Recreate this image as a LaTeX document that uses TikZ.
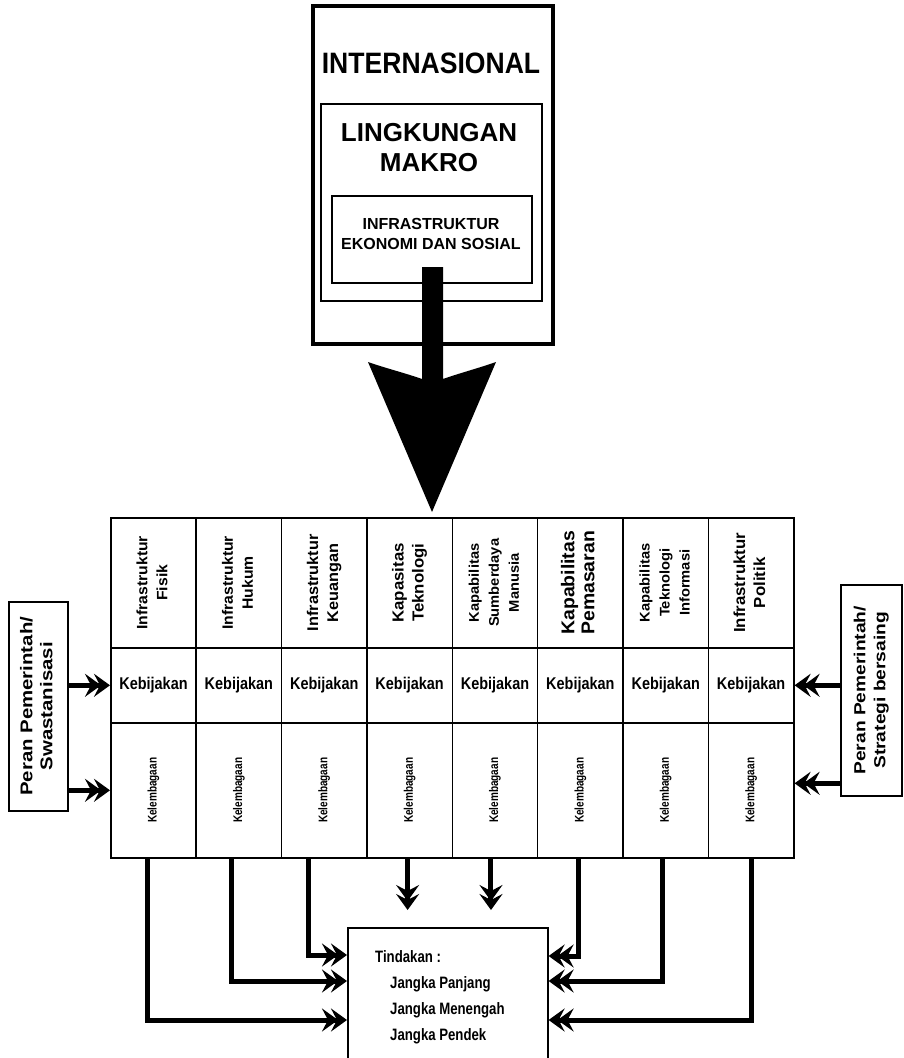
\documentclass[tikz,border=0pt]{standalone}
\usepackage{graphicx}
\usepackage{fontspec}
\setmainfont{Liberation Sans}
\newfontfamily\titlefont[FakeStretch=0.9]{Liberation Sans}
\newfontfamily\hdfont[FakeStretch=1.05]{Liberation Sans}
\newfontfamily\sidefont[FakeStretch=1.2]{Liberation Sans}
\newfontfamily\kebfont[FakeStretch=0.85]{Liberation Sans}
\newfontfamily\kelfont[FakeStretch=0.8]{Liberation Sans}
\newfontfamily\tinfont[FakeStretch=0.8]{Liberation Sans}
\usetikzlibrary{arrows.meta,calc}
\newcommand{\vtxt}[2]{\rotatebox{90}{\hdfont\bfseries\fontsize{#1}{20}\selectfont\begin{tabular}{@{}c@{}}#2\end{tabular}}}
\newcommand{\kel}{\rotatebox{90}{Kelembagaan}}
\tikzset{
  cell/.style={draw, line width=1.6pt, anchor=north west, inner sep=0pt, minimum width=85.375pt},
  hcell/.style={cell, minimum height=130pt},
  kcell/.style={cell, minimum height=75pt, font=\kebfont\bfseries\fontsize{17}{20}\selectfont},
  lcell/.style={cell, minimum height=135pt, font=\kelfont\bfseries\fontsize{12.5}{14}\selectfont},
  frame/.style={draw, anchor=north west, inner sep=0pt},
  dbl/.style={line width=5pt, -{Stealth[length=16pt,width=23pt,inset=6pt,sep=-7pt]Stealth[length=16pt,width=23pt,inset=6pt]}},
}
\begin{document}
\begin{tikzpicture}[x=1pt,y=-1pt]
\useasboundingbox (0,0) rectangle (903,1058);
\fill[white] (0,0) rectangle (903,1058);

% top nested boxes
\node[frame, line width=4pt, minimum width=240pt, minimum height=338pt] (intl) at (311,4) {};
\node[frame, line width=1.5pt, minimum width=221pt, minimum height=197pt] (makro) at (320,103) {};
\node[frame, line width=1.5pt, minimum width=200pt, minimum height=87pt] (infra) at (331,195) {};
\node[font=\titlefont\bfseries\fontsize{29.5}{34}\selectfont] (tIntl) at (431,63) {INTERNASIONAL};
\node[font=\bfseries\fontsize{26}{30}\selectfont, align=center] (tMakro) at (429,147.5) {LINGKUNGAN\\MAKRO};
\node[font=\bfseries\fontsize{16}{19.5}\selectfont, align=center] (tInfra) at (431,234) {INFRASTRUKTUR\\EKONOMI DAN SOSIAL};

% big arrow
\fill (422,267) -- (422,379) .. controls (405,373) and (385,368) .. (368,362) -- (432,512) -- (496,362) .. controls (479,368) and (460,373) .. (443,379) -- (443,267) -- cycle;

% header row
\node[hcell] (h1) at (110,517) {\vtxt{15}{Infrastruktur\\Fisik}};
\node[hcell] (h2) at (195.375,517) {\vtxt{15}{Infrastruktur\\Hukum}};
\node[hcell] (h3) at (280.75,517) {\vtxt{15.5}{Infrastruktur\\Keuangan}};
\node[hcell] (h4) at (366.125,517) {\vtxt{16}{Kapasitas\\Teknologi}};
\node[hcell] (h5) at (451.5,517) {\vtxt{14}{Kapabilitas\\Sumberdaya\\Manusia}};
\node[hcell] (h6) at (536.875,517) {\vtxt{18.5}{Kapabilitas\\Pemasaran}};
\node[hcell] (h7) at (622.25,517) {\vtxt{14}{Kapabilitas\\Teknologi\\Informasi}};
\node[hcell] (h8) at (707.625,517) {\vtxt{16}{Infrastruktur\\Politik}};

% Kebijakan row
\node[kcell] (k1) at (110,647) {Kebijakan};
\node[kcell] (k2) at (195.375,647) {Kebijakan};
\node[kcell] (k3) at (280.75,647) {Kebijakan};
\node[kcell] (k4) at (366.125,647) {Kebijakan};
\node[kcell] (k5) at (451.5,647) {Kebijakan};
\node[kcell] (k6) at (536.875,647) {Kebijakan};
\node[kcell] (k7) at (622.25,647) {Kebijakan};
\node[kcell] (k8) at (707.625,647) {Kebijakan};

% Kelembagaan row
\node[lcell] (l1) at (110,722) {\kel};
\node[lcell] (l2) at (195.375,722) {\kel};
\node[lcell] (l3) at (280.75,722) {\kel};
\node[lcell] (l4) at (366.125,722) {\kel};
\node[lcell] (l5) at (451.5,722) {\kel};
\node[lcell] (l6) at (536.875,722) {\kel};
\node[lcell] (l7) at (622.25,722) {\kel};
\node[lcell] (l8) at (707.625,722) {\kel};

% side boxes
\node[frame, line width=1.6pt, minimum width=59pt, minimum height=209pt] (lb) at (8,601)
  {\rotatebox{90}{\sidefont\bfseries\fontsize{17}{20}\selectfont\begin{tabular}{@{}c@{}}Peran Pemerintah/\\Swastanisasi\end{tabular}}};
\node[frame, line width=1.6pt, minimum width=61pt, minimum height=211pt] (rb) at (840,584)
  {\rotatebox{90}{\sidefont\bfseries\fontsize{16}{20}\selectfont\begin{tabular}{@{}c@{}}Peran Pemerintah/\\Strategi bersaing\end{tabular}}};

\coordinate (l8e) at ([yshift=7pt]l8.east);
\draw[dbl] (lb.east |- k1.west) -- (k1.west);
\draw[dbl] (lb.east |- l1.west) -- (l1.west);
\draw[dbl] (rb.west |- k8.east) -- (k8.east);
\draw[dbl] (rb.west |- l8e) -- (l8e);

% Tindakan box
\node[frame, line width=1.6pt, minimum width=200pt, minimum height=150pt] (t) at (347,927) {};
\node[anchor=north west, inner sep=0pt, align=left, font=\tinfont\bfseries\fontsize{16.5}{26}\selectfont] (tt) at (375,950)
  {Tindakan :\\\hspace*{15pt}Jangka Panjang\\\hspace*{15pt}Jangka Menengah\\\hspace*{15pt}Jangka Pendek};

\coordinate (tl1) at ($(t.north west)+(0,28)$);
\coordinate (tl2) at ($(t.north west)+(0,54)$);
\coordinate (tl3) at ($(t.north west)+(0,93)$);
\coordinate (tr1) at ($(t.north east)+(0,29)$);
\coordinate (tr2) at ($(t.north east)+(0,54)$);
\coordinate (tr3) at ($(t.north east)+(0,93)$);
\coordinate (d4) at ([xshift=-2pt]l4.south);
\coordinate (d5) at ([xshift=-4pt]l5.south);

\draw[dbl, shorten >=17pt] (d4) -- (d4 |- t.north);
\draw[dbl, shorten >=17pt] (d5) -- (d5 |- t.north);

\draw[dbl] ([xshift=-16pt]l3.south) |- (tl1);
\draw[dbl] ([xshift=-7pt]l2.south) |- (tl2);
\draw[dbl] ([xshift=-6pt]l1.south) |- (tl3);
\draw[dbl] ([xshift=-2pt]l6.south) |- (tr1);
\draw[dbl] ([xshift=-3pt]l7.south) |- (tr2);
\draw[dbl] (l8.south) |- (tr3);
\end{tikzpicture}
\end{document}
